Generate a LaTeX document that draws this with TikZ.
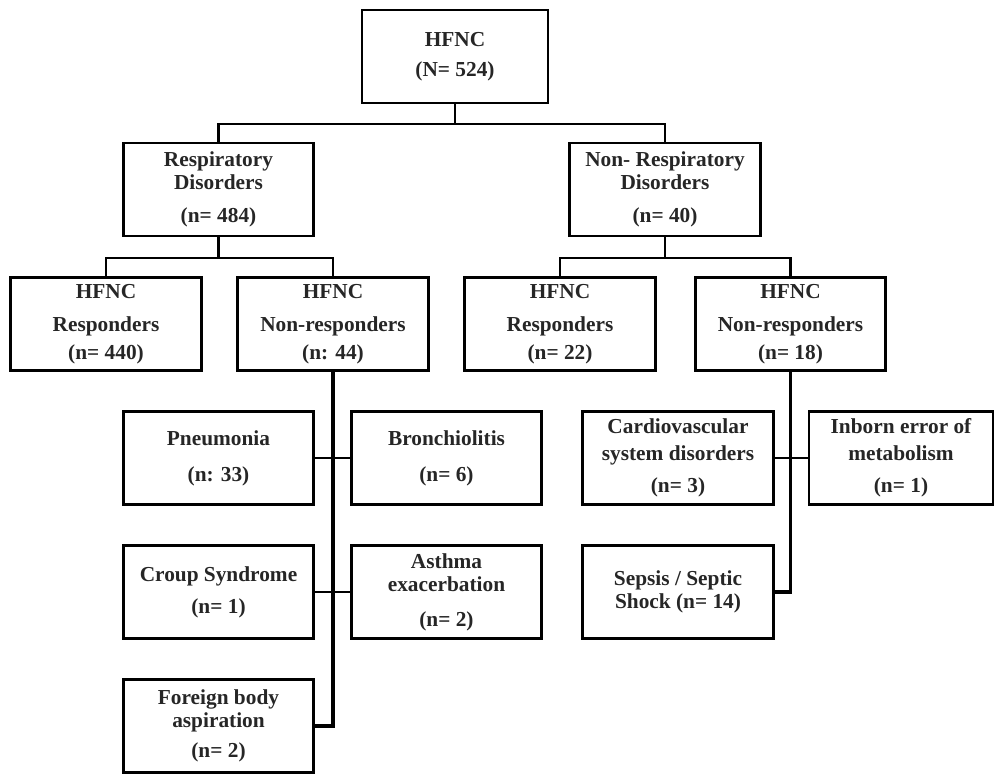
\documentclass[tikz,border=0pt]{standalone}
\usepackage{fontspec}
\setmainfont{Liberation Serif}
\usepackage{tikz}

\begin{document}
\begin{tikzpicture}[x=0.75pt, y=-0.75pt,
    box/.style={draw, line width=2.2pt, minimum width=143pt, minimum height=69.75pt,
      inner sep=0pt, align=center, text=black!85,
      font=\bfseries\fontsize{16}{17.5}\selectfont},
    link/.style={line width=2pt}]
    \useasboundingbox (0,0) rectangle (996,776);

    % Nodes
    \node[box, minimum width=139.5pt] (top) at (455,56.5) {HFNC\\[5pt](N= 524)};

    \node[box] (resp) at (218.5,189.5) {Respiratory\\Disorders\\[7pt](n= 484)};
    \node[box] (nonresp) at (665,189.5) {Non- Respiratory\\Disorders\\[7pt](n= 40)};

    \node[box] (R1) at (106,324) {HFNC\\[7pt]Responders\\[3.5pt](n= 440)};
    \node[box] (N1) at (333,324) {HFNC\\[7pt]Non-responders\\[3.5pt](n: 44)};
    \node[box] (R2) at (560,324) {HFNC\\[7pt]Responders\\[3.5pt](n= 22)};
    \node[box] (N2) at (790.5,324) {HFNC\\[7pt]Non-responders\\[3.5pt](n= 18)};

    \node[box] (pneu) at (218.5,458) {Pneumonia\\[9.5pt](n: 33)};
    \node[box] (bronch) at (446.5,458) {Bronchiolitis\\[9.5pt](n= 6)};
    \node[box] (croup) at (218.5,592) {Croup Syndrome\\[6.5pt](n= 1)};
    \node[box] (asthma) at (446.5,592) {Asthma\\exacerbation\\[8.5pt](n= 2)};
    \node[box] (foreign) at (218.5,726) {Foreign body\\aspiration\\[5pt](n= 2)};

    \node[box] (cardio) at (678,458) {Cardiovascular\\[2.5pt]system disorders\\[7pt](n= 3)};
    \node[box, minimum width=138pt] (inborn) at (901,458) {Inborn error of\\[2.5pt]metabolism\\[7pt](n= 1)};
    \node[box] (sepsis) at (678,592) {Sepsis / Septic\\Shock (n= 14)};

    % Junctions
    \coordinate (j1) at (455,124);
    \coordinate (j2) at (218.5,258);
    \coordinate (j3) at (665,258);

    % Connectors
    \draw[link] (top.south) -- (j1);
    \draw[link] (resp.north) |- (j1) -| (nonresp.north);

    \draw[link] (resp.south) -- (j2);
    \draw[link] (R1.north) |- (j2) -| (N1.north);
    \draw[link] (nonresp.south) -- (j3);
    \draw[link] (R2.north) |- (j3) -| (N2.north);

    \draw[link, line width=2.4pt] (N1.south) |- (foreign.east);
    \draw[link] (pneu.east) -- (bronch.west);
    \draw[link] (croup.east) -- (asthma.west);

    \draw[link, line width=2.4pt] (N2.south) |- (sepsis.east);
    \draw[link] (cardio.east) -- (inborn.west);
  \end{tikzpicture}
\end{document}
